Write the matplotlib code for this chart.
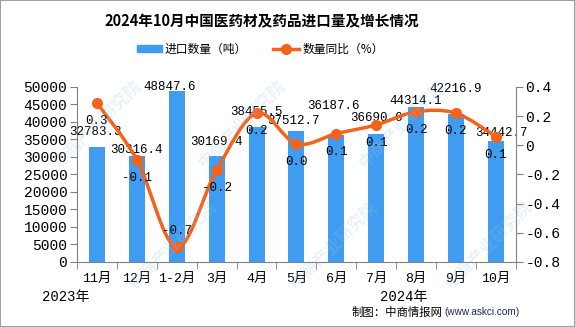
import matplotlib
matplotlib.use('Agg')
import matplotlib.pyplot as plt
from matplotlib.path import Path
from matplotlib.patches import PathPatch, Rectangle
import numpy as np

plt.rcParams['font.family'] = ['Noto Sans CJK SC', 'DejaVu Sans']
plt.rcParams['axes.unicode_minus'] = False

months = ['11月', '12月', '1-2月', '3月', '4月', '5月', '6月', '7月', '8月', '9月', '10月']
volume = [32783.3, 30316.4, 48847.6, 30169.4, 38455.5, 37512.7, 36187.6, 36690.6, 44314.1, 42216.9, 34442.7]
yoy = [0.29, -0.10, -0.70, -0.17, 0.22, 0.01, 0.08, 0.14, 0.23, 0.22, 0.06]

# label nudges in points (dx, dy above bar top)
vol_off = [(-1, 11), (0, 4), (-5, 3), (0, 10), (0, 11), (-2, 7), (-2, 21), (0, 11), (0, 4), (0, 18), (4, 6)]

BLUE = '#3f9cf0'
ORANGE = '#f5621a'
AXC = '#808080'
mono = ['Liberation Mono', 'Noto Sans CJK SC']

fig = plt.figure(figsize=(5.75, 3.27), dpi=100)
fig.patches.append(Rectangle((0, 0), 1, 1, transform=fig.transFigure, fill=False,
                             edgecolor='#a0a0a0', linewidth=1.5))

# faint watermark
for wx, wy in [(0.17, 0.62), (0.42, 0.62), (0.70, 0.62), (0.30, 0.25), (0.58, 0.25), (0.85, 0.25)]:
    fig.text(wx, wy, '中商产业研究院', rotation=45, fontsize=12, color='#9cc4e4',
             alpha=0.22, ha='center', va='center', fontweight='bold')

ax = fig.add_axes([0.134, 0.199, 0.763, 0.535])
x = np.arange(len(months))
ax.bar(x, volume, width=0.4, color=BLUE, zorder=2)
ax.set_xlim(-0.5, len(months) - 0.5)
ax.set_ylim(0, 50000)
ax.set_yticks(np.arange(0, 50001, 5000))
ax.set_xticks(x)
ax.set_xticklabels(months, family=mono, fontsize=9.5)
ax.set_xticks(np.arange(-0.5, len(months)), minor=True)
ax.tick_params(axis='x', which='major', length=0, pad=8)
ax.tick_params(axis='x', which='minor', length=5, color=AXC, direction='out')
ax.tick_params(axis='y', length=5, color=AXC, direction='out', pad=2)
for t in ax.get_yticklabels():
    t.set_family(mono)
    t.set_fontsize(10.5)
for s in ['top', 'right']:
    ax.spines[s].set_visible(False)
for s in ['left', 'bottom']:
    ax.spines[s].set_color(AXC)

for i, v in enumerate(volume):
    dx, dy = vol_off[i]
    ax.annotate(f'{v:.1f}', (x[i], v), xytext=(dx, dy), textcoords='offset points',
                ha='center', va='center', family=mono, fontsize=9, zorder=5)

ax2 = ax.twinx()
ax2.set_ylim(-0.8, 0.4)
ax2.set_yticks(np.arange(-0.8, 0.41, 0.2))
ax2.set_yticklabels(['0' if abs(t) < 1e-9 else f'{t:.1f}' for t in np.arange(-0.8, 0.41, 0.2)],
                    family=mono, fontsize=10.5)
ax2.tick_params(axis='y', length=5, color=AXC, direction='out', pad=2)
for s in ['top', 'left', 'bottom']:
    ax2.spines[s].set_visible(False)
ax2.spines['right'].set_color(AXC)

# smooth curve through the points (Catmull-Rom as cubic Bezier)
pts = np.column_stack([x, yoy]).astype(float)
verts = [pts[0]]
codes = [Path.MOVETO]
for i in range(len(pts) - 1):
    p0 = pts[i - 1] if i > 0 else pts[i]
    p1, p2 = pts[i], pts[i + 1]
    p3 = pts[i + 2] if i + 2 < len(pts) else pts[i + 1]
    verts += [p1 + (p2 - p0) / 6, p2 - (p3 - p1) / 6, p2]
    codes += [Path.CURVE4] * 3
ax2.add_patch(PathPatch(Path(verts, codes), facecolor='none', edgecolor=ORANGE,
                        linewidth=2.5, zorder=3))
ax2.plot(x, yoy, 'o', color=ORANGE, markersize=7, zorder=4)

for i, v in enumerate(yoy):
    dy = 12 if v < -0.5 else -13
    ax2.annotate(f'{v:.1f}', (x[i], v), xytext=(0, dy), textcoords='offset points',
                 ha='center', va='center', family=mono, fontsize=9, zorder=5)

fig.text(0.455, 0.934, '2024年10月中国医药材及药品进口量及增长情况', ha='center', va='center',
         fontsize=10.5, fontweight='bold')

# legend
fig.patches.append(Rectangle((137 / 575, 1 - 52 / 327), 25 / 575, 7 / 327,
                             transform=fig.transFigure, color=BLUE))
fig.text(165 / 575, 1 - 49 / 327, '进口数量（吨）', ha='left', va='center', fontsize=8.5)
fig.lines.append(plt.Line2D([273 / 575, 299 / 575], [1 - 49 / 327] * 2, transform=fig.transFigure,
                            color=ORANGE, linewidth=2.5))
fig.lines.append(plt.Line2D([286 / 575], [1 - 49 / 327], transform=fig.transFigure,
                            color=ORANGE, marker='o', markersize=7, linestyle='none'))
fig.text(303 / 575, 1 - 49 / 327, '数量同比（%）', ha='left', va='center', fontsize=8.5)

fig.text(42 / 575, 1 - 297 / 327, '2023年', ha='left', va='center', fontsize=10, family=mono)
fig.text(380 / 575, 1 - 297 / 327, '2024年', ha='left', va='center', fontsize=10, family=mono)
src = fig.text(352 / 575, 1 - 312 / 327, '制图：中商情报网', ha='left', va='center', fontsize=8.2)
fig.canvas.draw()
bb = src.get_window_extent()
fig.text(bb.x1 / fig.bbox.width + 0.002, 1 - 312 / 327, '(www.askci.com)', ha='left', va='center',
         fontsize=7.2, color='#1f2a5a', family='Liberation Sans')

fig.savefig('out.png', dpi=100)
